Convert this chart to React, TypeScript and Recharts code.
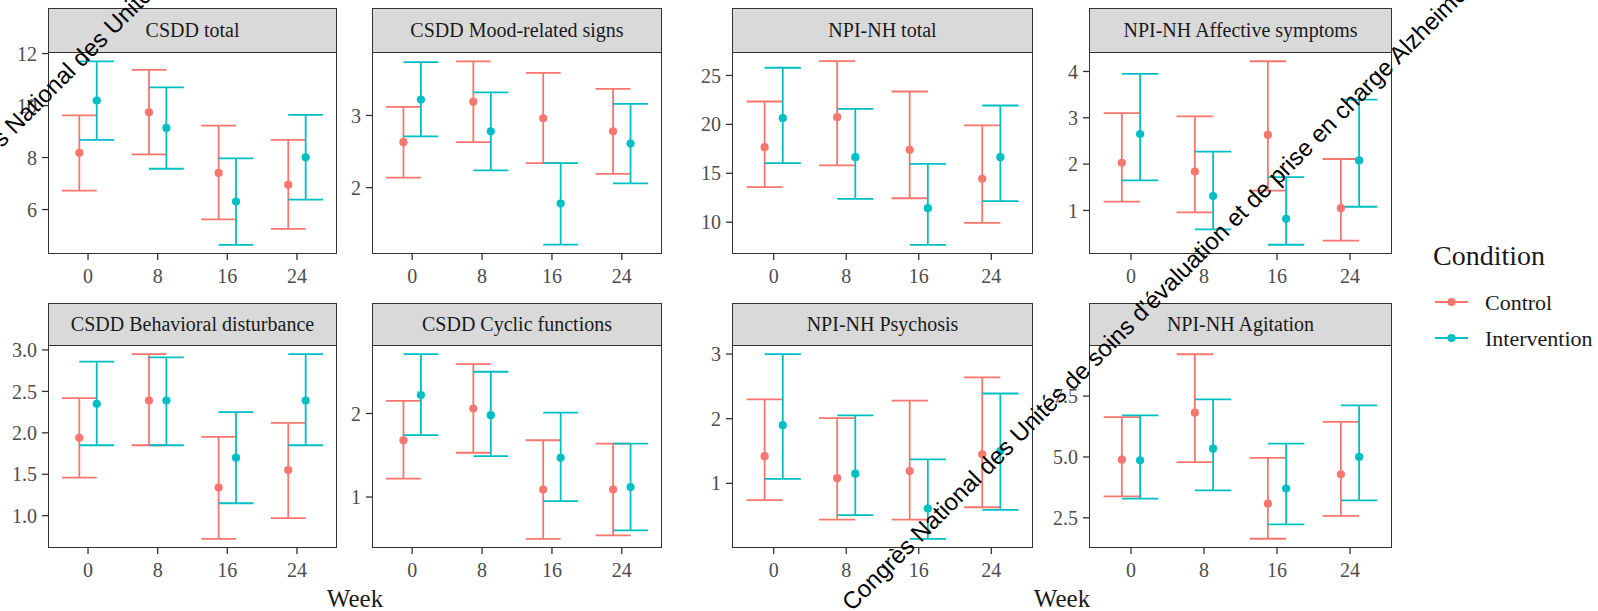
import React from "react";
import { ScatterChart, Scatter, XAxis, YAxis, ErrorBar } from "recharts";

const CONTROL = "#F8766D";
const INTERVENTION = "#00BFC4";
const SERIF = '"Liberation Serif", "Times New Roman", serif';
const SANS = '"Liberation Sans", Arial, sans-serif';

const weeks = [0, 8, 16, 24];

// each row: [lower, mean, upper] for weeks 0, 8, 16, 24
const csddTotalControl = [[6.73, 8.18, 9.62], [8.12, 9.74, 11.37], [5.62, 7.41, 9.23], [5.26, 6.95, 8.68]];
const csddTotalIntervention = [[8.68, 10.19, 11.7], [7.57, 9.14, 10.7], [4.64, 6.31, 7.97], [6.38, 8.01, 9.64]];

const csddMoodControl = [[2.14, 2.63, 3.12], [2.63, 3.19, 3.75], [2.34, 2.96, 3.59], [2.19, 2.78, 3.37]];
const csddMoodIntervention = [[2.71, 3.22, 3.74], [2.24, 2.78, 3.32], [1.21, 1.78, 2.34], [2.06, 2.61, 3.16]];

const npiTotalControl = [[13.58, 17.67, 22.34], [15.8, 20.74, 26.46], [12.45, 17.4, 23.36], [9.94, 14.44, 19.89]];
const npiTotalIntervention = [[16.03, 20.63, 25.79], [12.39, 16.65, 21.59], [7.69, 11.43, 15.97], [12.15, 16.65, 21.93]];

const npiAffectiveControl = [[1.19, 2.03, 3.1], [0.96, 1.84, 3.03], [1.43, 2.63, 4.22], [0.35, 1.05, 2.11]];
const npiAffectiveIntervention = [[1.65, 2.65, 3.95], [0.59, 1.31, 2.27], [0.26, 0.82, 1.72], [1.08, 2.08, 3.39]];

const csddBehavControl = [[1.46, 1.94, 2.42], [1.85, 2.39, 2.95], [0.72, 1.34, 1.95], [0.97, 1.55, 2.12]];
const csddBehavIntervention = [[1.85, 2.35, 2.86], [1.85, 2.39, 2.91], [1.15, 1.7, 2.25], [1.85, 2.39, 2.95]];

const csddCyclicControl = [[1.22, 1.68, 2.15], [1.53, 2.06, 2.59], [0.5, 1.09, 1.68], [0.54, 1.09, 1.64]];
const csddCyclicIntervention = [[1.74, 2.22, 2.71], [1.49, 1.98, 2.5], [0.95, 1.47, 2.01], [0.6, 1.12, 1.64]];

const npiPsychosisControl = [[0.74, 1.42, 2.3], [0.44, 1.08, 2.01], [0.44, 1.19, 2.28], [0.63, 1.45, 2.64]];
const npiPsychosisIntervention = [[1.07, 1.9, 3.0], [0.51, 1.15, 2.05], [0.14, 0.61, 1.37], [0.59, 1.5, 2.39]];

const npiAgitationControl = [[3.38, 4.89, 6.64], [4.79, 6.82, 9.22], [1.64, 3.08, 4.96], [2.58, 4.29, 6.44]];
const npiAgitationIntervention = [[3.29, 4.86, 6.71], [3.63, 5.34, 7.37], [2.23, 3.7, 5.55], [3.22, 5.0, 7.12]];

const titles = [
  "CSDD total", "CSDD Mood-related signs", "NPI-NH total", "NPI-NH Affective symptoms",
  "CSDD Behavioral disturbance", "CSDD Cyclic functions", "NPI-NH Psychosis", "NPI-NH Agitation",
];
const yDomains = [
  [4.29, 12.06], [1.08, 3.88], [6.75, 27.4], [0.06, 4.42],
  [0.61, 3.06], [0.39, 2.82], [0.0, 3.14], [1.26, 9.6],
];
const yTicks = [
  [6, 8, 10, 12], [2, 3], [10, 15, 20, 25], [1, 2, 3, 4],
  [1, 1.5, 2, 2.5, 3], [1, 2], [1, 2, 3], [2.5, 5, 7.5],
];
const yDecimals = [0, 0, 0, 0, 1, 0, 0, 1];
const controlSets = [csddTotalControl, csddMoodControl, npiTotalControl, npiAffectiveControl,
  csddBehavControl, csddCyclicControl, npiPsychosisControl, npiAgitationControl];
const interventionSets = [csddTotalIntervention, csddMoodIntervention, npiTotalIntervention, npiAffectiveIntervention,
  csddBehavIntervention, csddCyclicIntervention, npiPsychosisIntervention, npiAgitationIntervention];

// layout (pixels)
const COL_LEFT = [48, 372, 732, 1089];
const COL_W = [289, 290, 301, 303];
const ROW_TOP = [52, 345];
const ROW_H = [202, 203];
const STRIP_TOP = [8, 303];
const Y_W = 44;
const X_H = 40;
const PAD_TOP = 14;
const X_DOMAIN = [-4.6, 28.6];
const DODGE = 1;

const toPoints = (vals: number[][], shift: number) =>
  vals.map(([lo, mean, hi], i) => ({ x: weeks[i] + shift, y: mean, err: [mean - lo, hi - mean] }));

const dot = (color: string) => (p: any) => <circle cx={p.cx} cy={p.cy} r={4.1} fill={color} />;

const tickStyle = { fill: "#4D4D4D", fontSize: 20, fontFamily: SERIF };

function Panel({ idx }: { idx: number }) {
  const col = idx % 4;
  const row = Math.floor(idx / 4);
  const left = COL_LEFT[col];
  const width = COL_W[col];
  const top = ROW_TOP[row];
  const height = ROW_H[row];
  const stripTop = STRIP_TOP[row];
  const capHalf = (2 * width) / (X_DOMAIN[1] - X_DOMAIN[0]);
  const dec = yDecimals[idx];

  return (
    <>
      <div
        style={{
          position: "absolute", left, top: stripTop, width, height: top - stripTop + 1,
          background: "#D9D9D9", border: "1.3px solid #333", boxSizing: "border-box",
          display: "flex", alignItems: "center", justifyContent: "center",
          fontFamily: SERIF, fontSize: 20, color: "#1A1A1A",
        }}
      >
        {titles[idx]}
      </div>
      <div style={{ position: "absolute", left: left - Y_W, top: top - PAD_TOP }}>
        <ScatterChart
          width={Y_W + width}
          height={height + X_H + PAD_TOP}
          margin={{ top: PAD_TOP, right: 0, bottom: 0, left: 0 }}
          style={{ overflow: "visible" }}
        >
          <XAxis
            type="number" dataKey="x" domain={X_DOMAIN} ticks={weeks} interval={0} allowDataOverflow
            height={X_H} axisLine={false} tickLine={{ stroke: "#333", strokeWidth: 1.3 }}
            tickSize={6} tickMargin={9} tick={tickStyle}
          />
          <YAxis
            type="number" dataKey="y" domain={yDomains[idx]} ticks={yTicks[idx]} interval={0} allowDataOverflow
            width={Y_W} axisLine={false} tickLine={{ stroke: "#333", strokeWidth: 1.3 }}
            tickSize={6} tickMargin={5} tick={tickStyle}
            tickFormatter={(v: number) => (dec ? v.toFixed(1) : String(v))}
          />
          <Scatter data={toPoints(controlSets[idx], -DODGE)} fill={CONTROL} shape={dot(CONTROL)} isAnimationActive={false}>
            <ErrorBar dataKey="err" direction="y" width={capHalf} stroke={CONTROL} strokeWidth={1.8} isAnimationActive={false} />
          </Scatter>
          <Scatter data={toPoints(interventionSets[idx], DODGE)} fill={INTERVENTION} shape={dot(INTERVENTION)} isAnimationActive={false}>
            <ErrorBar dataKey="err" direction="y" width={capHalf} stroke={INTERVENTION} strokeWidth={1.8} isAnimationActive={false} />
          </Scatter>
        </ScatterChart>
      </div>
      <div
        style={{
          position: "absolute", left, top, width, height,
          border: "1.3px solid #333", boxSizing: "border-box", pointerEvents: "none",
        }}
      />
    </>
  );
}

const WATERMARK = "Congrès National des Unités de soins d'évaluation et de prise en charge Alzheimer";

export default function App() {
  return (
    <div style={{ position: "absolute", left: 0, top: 0, width: 1598, height: 611, background: "#fff", overflow: "hidden" }}>
      {titles.map((_, i) => (
        <Panel key={i} idx={i} />
      ))}
      <svg width={1598} height={611} style={{ position: "absolute", left: 0, top: 0, pointerEvents: "none" }}>
        <text x={355} y={607} textAnchor="middle" fontFamily={SERIF} fontSize={25} fill="#1A1A1A">Week</text>
        <text x={1062} y={607} textAnchor="middle" fontFamily={SERIF} fontSize={25} fill="#1A1A1A">Week</text>

        <text x={1433} y={265} fontFamily={SERIF} fontSize={28} fill="#1A1A1A">Condition</text>
        <line x1={1435} x2={1468} y1={302} y2={302} stroke={CONTROL} strokeWidth={1.8} />
        <circle cx={1451.5} cy={302} r={4.1} fill={CONTROL} />
        <text x={1485} y={310} fontFamily={SERIF} fontSize={22} fill="#1A1A1A">Control</text>
        <line x1={1435} x2={1468} y1={338} y2={338} stroke={INTERVENTION} strokeWidth={1.8} />
        <circle cx={1451.5} cy={338} r={4.1} fill={INTERVENTION} />
        <text x={1485} y={346} fontFamily={SERIF} fontSize={22} fill="#1A1A1A">Intervention</text>

        <text x={-54} y={204} transform="rotate(-45 -54 204)" fontFamily={SANS} fontSize={24} fill="#000">{WATERMARK}</text>
        <text x={852} y={612} transform="rotate(-45 852 612)" fontFamily={SANS} fontSize={24} fill="#000">{WATERMARK}</text>
      </svg>
    </div>
  );
}
